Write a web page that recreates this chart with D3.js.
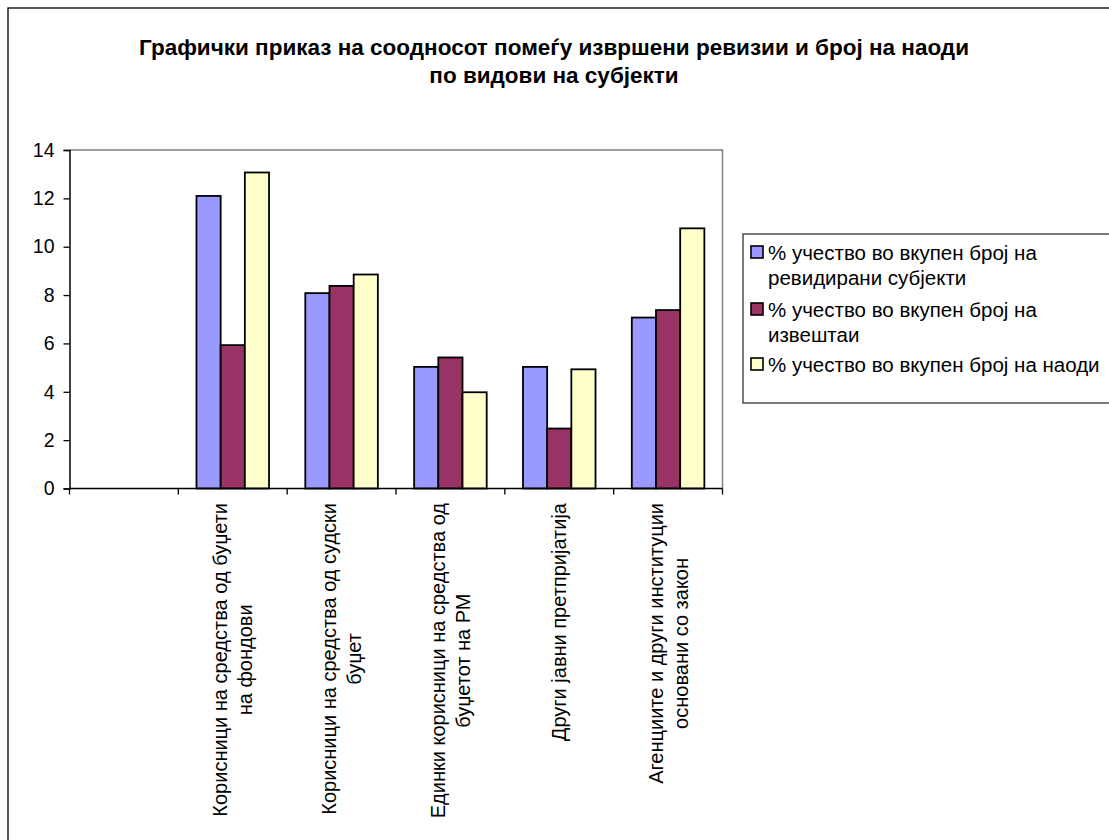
<!DOCTYPE html>
<html><head><meta charset="utf-8">
<script src="https://cdn.jsdelivr.net/npm/d3@7"></script>
<style>body{margin:0;background:#fff}svg{display:block}text{font-family:"Liberation Sans",Arial,sans-serif}</style>
</head><body>
<svg id="c" width="1109" height="840"></svg>
<script>
const titleLines = ["Графички приказ на соодносот помеѓу извршени ревизии и број на наоди", "по видови на субјекти"];
const categories = ["", "Корисници на средства од буџети|на фондови", "Корисници на средства од судски|буџет", "Единки корисници на средства од|буџетот на РМ", "Други јавни претпријатија", "Агенциите и други институции|основани со закон"];
const seriesNames = ["% учество во вкупен број на|ревидирани субјекти", "% учество во вкупен број на|извештаи", "% учество во вкупен број на наоди"];
const seriesColors = ["#9999FF", "#993366", "#FFFFCC"];
const revidirani = [null, 12.1, 8.08, 5.03, 5.03, 7.07];
const izvestai = [null, 5.93, 8.38, 5.42, 2.48, 7.38];
const naodi = [null, 13.07, 8.85, 3.98, 4.93, 10.76];
const yTicks = [0, 2, 4, 6, 8, 10, 12, 14];

const series = [revidirani, izvestai, naodi];
const svg = d3.select("#c");
const W = 1109, H = 840;
svg.append("rect").attr("width", W).attr("height", H).attr("fill", "#fff");
// outer frame
svg.append("rect").attr("x", 8).attr("y", 8).attr("width", W + 20).attr("height", H + 20)
  .attr("fill", "none").attr("stroke", "#000").attr("stroke-width", 1.3);

// title
svg.append("text").attr("text-anchor", "middle").attr("font-weight", "bold").attr("font-size", 22.5)
  .selectAll("tspan").data(titleLines).join("tspan")
  .attr("x", 554).attr("y", (d, i) => 55 + i * 28).text(d => d);

const L = 69.5, R = 722.5, T = 150, B = 488.5;
const x = d3.scaleBand().domain(d3.range(categories.length)).range([L, R]).paddingInner(0).paddingOuter(0);
const y = d3.scaleLinear().domain([0, 14]).range([B, T]);
const bw = x.bandwidth() / 4.5;

// plot border (gray top/right)
svg.append("path").attr("d", `M${L},${T}H${R}V${B}`).attr("fill", "none").attr("stroke", "#808080").attr("stroke-width", 1.5);

// bars
series.forEach((s, si) => {
  svg.append("g").selectAll("rect").data(s.map((v, i) => ({ v, i })).filter(d => d.v != null)).join("rect")
    .attr("x", d => x(d.i) + 0.75 * bw + si * bw)
    .attr("y", d => y(d.v))
    .attr("width", bw)
    .attr("height", d => y(0) - y(d.v))
    .attr("fill", seriesColors[si]).attr("stroke", "#000").attr("stroke-width", 1.8);
});

// y axis
const ya = svg.append("g").attr("transform", `translate(${L},0)`)
  .call(d3.axisLeft(y).tickValues(yTicks).tickSize(6).tickPadding(9).tickFormat(d3.format("d")));
ya.select(".domain").attr("stroke", "#000").attr("stroke-width", 1.5);
ya.selectAll(".tick line").attr("stroke", "#000").attr("stroke-width", 1.3);
ya.selectAll("text").attr("font-size", 19.5).attr("font-family", "Liberation Sans, Arial, sans-serif").attr("fill", "#000");

// x axis
const xa = svg.append("g").attr("transform", `translate(0,${B})`);
xa.append("line").attr("x1", L).attr("x2", R).attr("stroke", "#000").attr("stroke-width", 1.5);
const tickPos = d3.range(categories.length + 1).map(i => i < categories.length ? x(i) : R);
xa.selectAll("line.t").data(tickPos).join("line").attr("class", "t")
  .attr("x1", d => d).attr("x2", d => d).attr("y1", 0).attr("y2", 6).attr("stroke", "#000").attr("stroke-width", 1.3);

// x labels, rotated
categories.forEach((c, i) => {
  if (!c) return;
  const lines = c.split("|");
  const cx = x(i) + x.bandwidth() / 2;
  const g = svg.append("g");
  const t = g.append("text").attr("font-size", 20).attr("text-anchor", "middle").attr("dominant-baseline", "central");
  t.selectAll("tspan").data(lines).join("tspan").attr("x", 0).attr("y", (d, k) => (k - (lines.length - 1) / 2) * 25).text(d => d);
  let maxLen = 0;
  t.selectAll("tspan").each(function () { maxLen = Math.max(maxLen, this.getComputedTextLength()); });
  g.attr("transform", `translate(${cx},${503 + maxLen / 2}) rotate(-90)`);
});

// legend
svg.append("rect").attr("x", 743).attr("y", 234).attr("width", 400).attr("height", 169)
  .attr("fill", "#fff").attr("stroke", "#333").attr("stroke-width", 1.3);
const legY = [252, 309, 364];
seriesNames.forEach((n, i) => {
  svg.append("rect").attr("x", 751).attr("y", legY[i] - 6).attr("width", 12).attr("height", 12)
    .attr("fill", seriesColors[i]).attr("stroke", "#000").attr("stroke-width", 1.6);
  svg.append("text").attr("font-size", 20.5).attr("dominant-baseline", "central")
    .selectAll("tspan").data(n.split("|")).join("tspan")
    .attr("x", 768).attr("y", (d, k) => legY[i] + k * 25).text(d => d);
});
</script>
</body></html>
